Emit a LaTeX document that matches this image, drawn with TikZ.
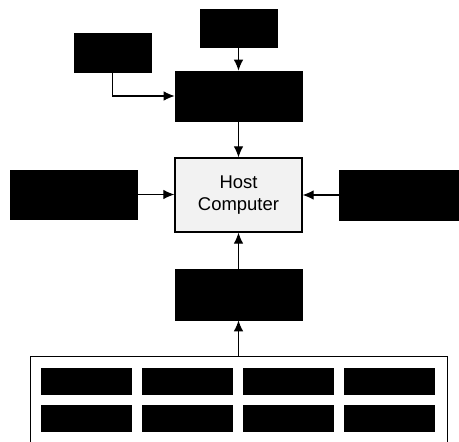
\documentclass[tikz,border=0pt]{standalone}
\usepackage{fontspec}
\setsansfont{Liberation Sans}
\usepackage{tikz}
\usetikzlibrary{arrows.meta,positioning}

\begin{document}
\begin{tikzpicture}[
    every node/.style={font=\sffamily},
    blk/.style={rectangle, draw, fill=black, inner sep=0pt},
    hst/.style={rectangle, draw, line width=0.7pt, fill=gray!10, inner sep=0pt,
                minimum width=2.54cm, minimum height=1.48cm, align=center,
                font=\sffamily\fontsize{10.5}{12.5}\selectfont},
    cell/.style={blk, minimum width=1.8cm, minimum height=0.52cm},
    grp/.style={rectangle, draw, line width=0.5pt, inner sep=0pt,
                minimum width=8.34cm, minimum height=1.76cm},
    e/.style={line width=0.6pt, -{Latex[length=2.2mm, width=1.9mm]}},
  ]
  \useasboundingbox (0,0) rectangle (9.18,-8.84);
  \node[blk, minimum width=1.54cm, minimum height=0.76cm] (top) at (4.77, -0.56) {};
  \node[blk, minimum width=1.54cm, minimum height=0.78cm] (sm) at (2.25, -1.05) {};
  \node[blk, minimum width=2.54cm, minimum height=1.00cm] (b2) at (4.77, -1.92) {};
  \node[hst] (host) at (4.77, -3.90) {Host\\Computer};
  \node[blk, minimum width=2.54cm, minimum height=0.98cm] (lf) at (1.47, -3.89) {};
  \node[blk, minimum width=2.44cm, minimum height=1.00cm] (rt) at (8.00, -3.90) {};
  \node[blk, minimum width=2.54cm, minimum height=1.02cm] (bl) at (4.77, -5.89) {};
  \node[grp] (grp) at (4.77, -8.00) {};
  \node[cell] (c11) at (1.72, -7.62) {};
  \node[cell] (c12) at (3.75, -7.62) {};
  \node[cell] (c13) at (5.77, -7.62) {};
  \node[cell] (c14) at (7.79, -7.62) {};
  \node[cell] (c21) at (1.72, -8.36) {};
  \node[cell] (c22) at (3.75, -8.36) {};
  \node[cell] (c23) at (5.77, -8.36) {};
  \node[cell] (c24) at (7.79, -8.36) {};
  \draw[e] (top) -- (b2);
  \draw[e] (sm.south) |- (b2.west);
  \draw[e] (b2) -- (host);
  \draw[e] (lf.east) -- (host.west |- lf.east);
  \draw[e] (rt.west) -- (host.east |- rt.west);
  \draw[e] (bl) -- (host);
  \draw[e] (grp.north) -- (bl.south);
\end{tikzpicture}
\end{document}
